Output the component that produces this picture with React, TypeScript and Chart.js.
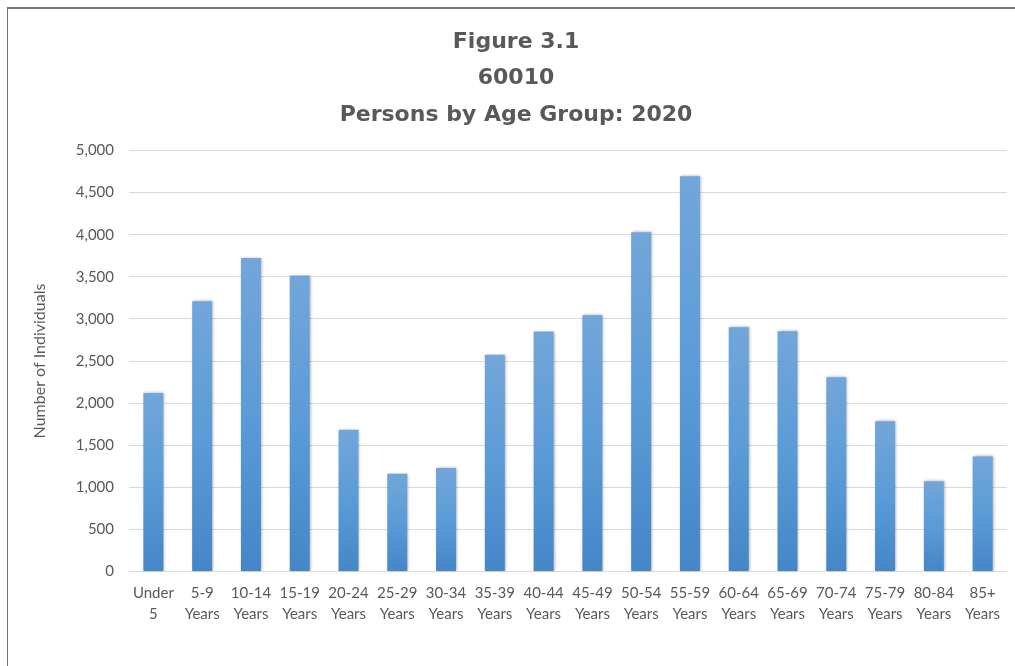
import React, { useEffect, useRef } from "react";
import { Chart, registerables } from "chart.js";

Chart.register(...registerables);

const categories: string[][] = [
  ["Under", "5"],
  ["5-9", "Years"],
  ["10-14", "Years"],
  ["15-19", "Years"],
  ["20-24", "Years"],
  ["25-29", "Years"],
  ["30-34", "Years"],
  ["35-39", "Years"],
  ["40-44", "Years"],
  ["45-49", "Years"],
  ["50-54", "Years"],
  ["55-59", "Years"],
  ["60-64", "Years"],
  ["65-69", "Years"],
  ["70-74", "Years"],
  ["75-79", "Years"],
  ["80-84", "Years"],
  ["85+", "Years"],
];

const persons: number[] = [
  2120, 3210, 3725, 3515, 1685, 1160, 1228, 2575, 2850, 3045, 4030, 4695, 2900,
  2853, 2308, 1785, 1072, 1367,
];

const yMin = 0;
const yMax = 5000;
const yStep = 500;

const titleLines: string[] = ["Figure 3.1", "60010", "Persons by Age Group: 2020"];
const yAxisTitle = "Number of Individuals";

const textColor = "#595959";

export default function App() {
  const ref = useRef<HTMLCanvasElement>(null);

  useEffect(() => {
    const canvas = ref.current;
    if (!canvas) return;

    const shadowPlugin = {
      id: "barShadow",
      beforeDatasetsDraw(chart: any) {
        const c = chart.ctx;
        c.save();
        c.shadowColor = "rgba(0,0,0,0.35)";
        c.shadowBlur = 3;
        c.shadowOffsetX = 1;
        c.shadowOffsetY = 0;
      },
      afterDatasetsDraw(chart: any) {
        chart.ctx.restore();
      },
    };

    const chart = new Chart(canvas, {
      type: "bar",
      data: {
        labels: categories,
        datasets: [
          {
            data: persons,
            backgroundColor: (c: any) => {
              const ch = c.chart;
              const area = ch.chartArea;
              const ys = ch.scales && ch.scales.y;
              if (!area || !ys || c.type !== "data") return "#5b9bd5";
              const top = ys.getPixelForValue(c.raw as number);
              const bottom = ys.getPixelForValue(0);
              if (!isFinite(top) || !isFinite(bottom) || top === bottom) return "#5b9bd5";
              const g = ch.ctx.createLinearGradient(0, top, 0, bottom);
              g.addColorStop(0, "#72a6da");
              g.addColorStop(0.5, "#5b9bd7");
              g.addColorStop(1, "#4486c7");
              return g;
            },
            borderWidth: 0,
            barPercentage: 0.41,
            categoryPercentage: 1,
          },
        ],
      },
      options: {
        responsive: false,
        animation: false,
        layout: { padding: { left: 25, right: 8, top: 0, bottom: 0 } },
        plugins: {
          legend: { display: false },
          tooltip: { enabled: false },
          title: {
            display: true,
            text: titleLines,
            color: textColor,
            font: { family: "'DejaVu Sans'", size: 22, weight: "bold", lineHeight: 1.66 },
            padding: { top: 24, bottom: 17 },
          },
        },
        scales: {
          x: {
            grid: { display: false, drawTicks: false },
            border: { display: false },
            ticks: {
              color: textColor,
              font: { family: "Lato", size: 15, lineHeight: 1.4 },
              padding: 11,
              maxRotation: 0,
              minRotation: 0,
              autoSkip: false,
            },
            afterFit: (s: any) => {
              s.height = 94.5;
            },
          },
          y: {
            min: yMin,
            max: yMax,
            grid: { color: "#d9d9d9", lineWidth: 1, drawTicks: false },
            border: { display: false },
            ticks: {
              stepSize: yStep,
              color: textColor,
              font: { family: "Lato", size: 15 },
              padding: 15,
              callback: (v: any) => Number(v).toLocaleString("en-US"),
            },
            title: {
              display: true,
              text: yAxisTitle,
              color: textColor,
              font: { family: "Lato", size: 16, lineHeight: 1.2 },
              padding: { top: 5, bottom: 0 },
            },
            afterFit: (s: any) => {
              s.width = 104;
            },
          },
        },
      },
      plugins: [shadowPlugin],
    } as any);

    return () => {
      chart.destroy();
    };
  }, []);

  return (
    <div
      style={{
        position: "fixed",
        left: 0,
        top: 0,
        width: 1015,
        height: 666,
        overflow: "hidden",
        background: "#ffffff",
      }}
    >
      <div
        style={{
          position: "absolute",
          left: 7,
          top: 7,
          width: 1100,
          height: 700,
          borderTop: "2px solid #767676",
          borderLeft: "1px solid #767676",
        }}
      />
      <canvas
        ref={ref}
        width={1015}
        height={666}
        style={{ position: "absolute", left: 0, top: 0 }}
      />
    </div>
  );
}
